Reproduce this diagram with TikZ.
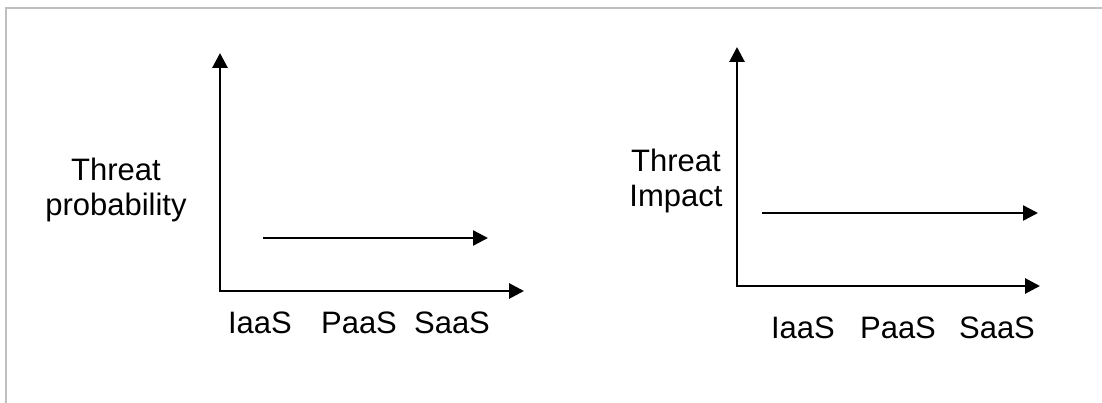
\documentclass[tikz,border=0pt]{standalone}
\usepackage{fontspec}
\setmainfont{Liberation Sans}
\usetikzlibrary{arrows.meta}
\begin{document}
\begin{tikzpicture}[x=1pt,y=-1pt,
  axis/.style={line width=2.9pt,{Triangle[length=15pt,width=15pt]}-{Triangle[length=15pt,width=15pt]}},
  trend/.style={line width=2.4pt,-{Triangle[length=15pt,width=15pt]}},
  lbl/.style={font=\fontsize{31}{35}\selectfont, inner sep=0pt, anchor=base, align=center},
  frame/.style={draw=black!25,line width=2pt}]
\useasboundingbox (0,0) rectangle (1102,403);
\draw[frame] (6,403) -- (6,8) -- (1102,8);
% left chart
\coordinate (y1) at (220,53);
\coordinate (o1) at (220,291);
\coordinate (x1) at (524,291);
\draw[axis] (y1) -- (o1) -- (x1);
\coordinate (t1s) at (263,238);
\coordinate (t1e) at (488,238);
\draw[trend] (t1s) -- (t1e);
\node[lbl] (yl1) at (116,216) {Threat\\probability};
\node[lbl] (i1) at (260,333) {IaaS};
\node[lbl] (p1) at (359,333) {PaaS};
\node[lbl] (s1) at (452,333) {SaaS};
% right chart
\coordinate (y2) at (737,47);
\coordinate (o2) at (737,286);
\coordinate (x2) at (1040,286);
\draw[axis] (y2) -- (o2) -- (x2);
\coordinate (t2s) at (762,213);
\coordinate (t2e) at (1038,213);
\draw[trend] (t2s) -- (t2e);
\node[lbl] (yl2) at (676,207) {Threat\\Impact};
\node[lbl] (i2) at (803,338) {IaaS};
\node[lbl] (p2) at (898,338) {PaaS};
\node[lbl] (s2) at (997,338) {SaaS};
\end{tikzpicture}
\end{document}
